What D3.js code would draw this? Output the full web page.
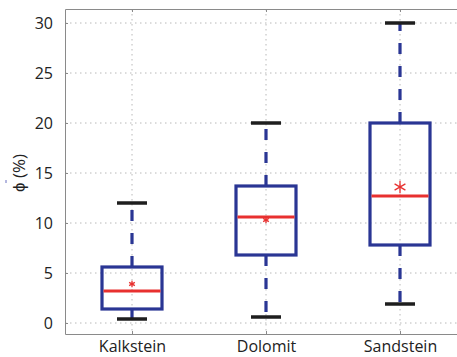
<!DOCTYPE html>
<html>
<head>
<meta charset="utf-8">
<script src="https://cdn.jsdelivr.net/npm/d3@7"></script>
<style>
  body { margin: 0; background: #fff; }
  text { font-family: "Open Sans", sans-serif; fill: #222; }
</style>
</head>
<body>
<script>
// box plot values
var categories = ['Kalkstein', 'Dolomit', 'Sandstein'];
var whiskerLow = [0.4, 0.6, 1.9];
var boxLow = [1.4, 6.8, 7.8];
var medians = [3.2, 10.6, 12.7];
var boxHigh = [5.6, 13.7, 20];
var whiskerHigh = [12, 20, 30];
var means = [3.9, 10.3, 13.6];
var yTicks = [0, 5, 10, 15, 20, 25, 30];

var meanSize = [30, 30, 110];

var W = 457, H = 357;
var svg = d3.select('body').append('svg')
    .attr('width', W)
    .attr('height', H);

var x = d3.scaleLinear().domain([0.5, 3.5]).range([65, 467]);
var y = d3.scaleLinear().domain([-1.1, 31.4]).range([334, 9]);

// grid
svg.selectAll('line.hgrid')
    .data(yTicks)
    .enter()
    .append('line')
    .attr('x1', x(0.5)).attr('x2', x(3.5))
    .attr('y1', function(d) { return y(d); })
    .attr('y2', function(d) { return y(d); })
    .attr('stroke', '#b8b8b8')
    .attr('stroke-width', 1)
    .attr('stroke-dasharray', '1.5,3.5');
svg.selectAll('line.vgrid')
    .data(categories)
    .enter()
    .append('line')
    .attr('x1', function(d, i) { return x(i + 1); })
    .attr('x2', function(d, i) { return x(i + 1); })
    .attr('y1', y(31.4)).attr('y2', y(-1.1))
    .attr('stroke', '#b8b8b8')
    .attr('stroke-width', 1)
    .attr('stroke-dasharray', '1.5,3.5');

// axes
var yAxis = d3.axisLeft(y).tickValues(yTicks).tickSizeInner(-3).tickSizeOuter(0).tickPadding(12);
var gy = svg.append('g').attr('transform', 'translate(' + x(0.5) + ',0)').call(yAxis);
gy.selectAll('text').style('font-size', '16px');

var xAxis = d3.axisBottom(x).tickValues([1, 2, 3])
    .tickFormat(function(d) { return categories[d - 1]; })
    .tickSizeInner(-3).tickSizeOuter(0).tickPadding(6.5);
var gx = svg.append('g').attr('transform', 'translate(0,' + y(-1.1) + ')').call(xAxis);
gx.selectAll('text').style('font-size', '16px');

var xTop = d3.axisTop(x).tickValues([1, 2, 3]).tickFormat('').tickSizeInner(-3).tickSizeOuter(0);
svg.append('g').attr('transform', 'translate(0,' + y(31.4) + ')').call(xTop);

svg.selectAll('.domain, .tick line').attr('stroke', '#8a8a8a');

// y label
svg.append('text')
    .attr('transform', 'translate(25,' + 173 + ') rotate(-90)')
    .attr('text-anchor', 'middle')
    .style('font-size', '17px')
    .text('\u03d5 (%)');
svg.append('line')
    .attr('x1', 6).attr('x2', 6)
    .attr('y1', 180).attr('y2', 183)
    .attr('stroke', '#6a70c0')
    .attr('stroke-width', 1);

var blue = '#2a3694', red = '#e8302f';
var boxW = 30, capW = 15;

var g = svg.selectAll('g.box')
    .data(categories)
    .enter()
    .append('g');

// whiskers
g.append('line')
    .attr('x1', function(d, i) { return x(i + 1); })
    .attr('x2', function(d, i) { return x(i + 1); })
    .attr('y1', function(d, i) { return y(boxHigh[i]); })
    .attr('y2', function(d, i) { return y(whiskerHigh[i]); })
    .attr('stroke', blue).attr('stroke-width', 3.2)
    .attr('stroke-dasharray', '11,12');
g.append('line')
    .attr('x1', function(d, i) { return x(i + 1); })
    .attr('x2', function(d, i) { return x(i + 1); })
    .attr('y1', function(d, i) { return y(boxLow[i]); })
    .attr('y2', function(d, i) { return y(whiskerLow[i]); })
    .attr('stroke', blue).attr('stroke-width', 3.2)
    .attr('stroke-dasharray', '11,12');

// caps
g.append('line')
    .attr('x1', function(d, i) { return x(i + 1) - capW; })
    .attr('x2', function(d, i) { return x(i + 1) + capW; })
    .attr('y1', function(d, i) { return y(whiskerHigh[i]); })
    .attr('y2', function(d, i) { return y(whiskerHigh[i]); })
    .attr('stroke', '#1e1e1e').attr('stroke-width', 3.5);
g.append('line')
    .attr('x1', function(d, i) { return x(i + 1) - capW; })
    .attr('x2', function(d, i) { return x(i + 1) + capW; })
    .attr('y1', function(d, i) { return y(whiskerLow[i]); })
    .attr('y2', function(d, i) { return y(whiskerLow[i]); })
    .attr('stroke', '#1e1e1e').attr('stroke-width', 3.5);

// boxes
g.append('rect')
    .attr('x', function(d, i) { return x(i + 1) - boxW; })
    .attr('width', 2 * boxW)
    .attr('y', function(d, i) { return y(boxHigh[i]); })
    .attr('height', function(d, i) { return y(boxLow[i]) - y(boxHigh[i]); })
    .attr('fill', 'none')
    .attr('stroke', blue).attr('stroke-width', 3.2);

// medians
g.append('line')
    .attr('x1', function(d, i) { return x(i + 1) - boxW + 1.5; })
    .attr('x2', function(d, i) { return x(i + 1) + boxW - 1.5; })
    .attr('y1', function(d, i) { return y(medians[i]); })
    .attr('y2', function(d, i) { return y(medians[i]); })
    .attr('stroke', red).attr('stroke-width', 3.2);

// means
g.append('path')
    .attr('transform', function(d, i) { return 'translate(' + x(i + 1) + ',' + y(means[i]) + ')'; })
    .attr('d', function(d, i) { return d3.symbol(d3.symbolAsterisk, meanSize[i])(); })
    .attr('fill', 'none')
    .attr('stroke', red).attr('stroke-width', 1.3);
</script>
</body>
</html>
